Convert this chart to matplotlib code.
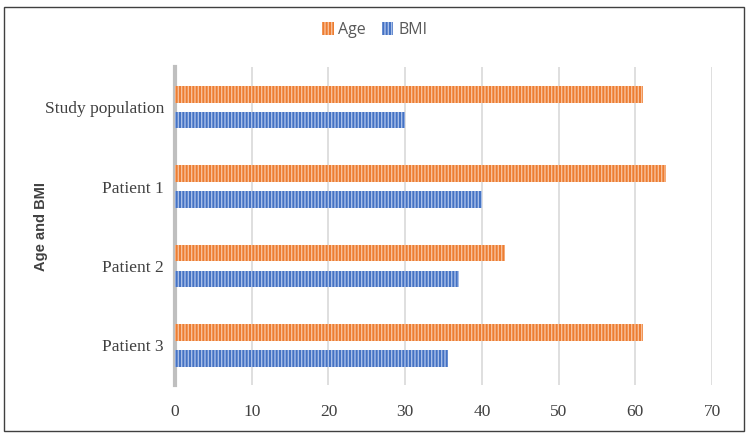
import numpy as np
import matplotlib.pyplot as plt
from matplotlib.patches import Rectangle

# data
categories = ["Study population", "Patient 1", "Patient 2", "Patient 3"]
age = [61, 64, 43, 61]
bmi = [30, 40, 37, 35.6]

plt.rcParams["hatch.linewidth"] = 1.0

fig = plt.figure(figsize=(7.48, 4.34), dpi=100)
ax = fig.add_axes([0.234, 0.113, 0.718, 0.7315])

y = np.arange(len(categories))[::-1]
h = 0.21
off = 0.163

ax.barh(y + off, age, height=h, color="#ED7D31", edgecolor="#F8C09B",
        hatch="|||||", linewidth=0, label="Age", zorder=3)
ax.barh(y - off, bmi, height=h, color="#4472C4", edgecolor="#A9BFE8",
        hatch="|||||", linewidth=0, label="BMI", zorder=3)

ax.set_xlim(0, 70)
ax.set_ylim(-0.5, 3.5)
ax.set_xticks(range(0, 71, 10))
ax.set_yticks(y)
ax.set_yticklabels(categories)
ax.grid(axis="x", color="#D9D9D9", linewidth=1.2, zorder=0)
ax.tick_params(axis="both", length=0, labelcolor="#404040", labelsize=12.5)
ax.tick_params(axis="y", pad=8)
ax.tick_params(axis="x", pad=14)
for lab in ax.get_xticklabels() + ax.get_yticklabels():
    lab.set_fontfamily("Liberation Serif")

for s in ["top", "right", "bottom"]:
    ax.spines[s].set_visible(False)
ax.spines["left"].set_color("#BFBFBF")
ax.spines["left"].set_linewidth(3)

ax.set_ylabel("Age and BMI", fontweight="bold", fontsize=10.5, color="#404040",
              fontfamily="Liberation Sans")
ax.yaxis.set_label_coords(-0.236, 0.5)

ax.legend(loc="center", bbox_to_anchor=(0.372, 1.118), ncol=2, frameon=False,
          prop={"family": "Open Sans", "size": 11.5}, labelcolor="#595959",
          handlelength=0.7, handleheight=0.9, handletextpad=0.3, columnspacing=1.0)

# outer border
fig.patches.append(Rectangle((0.006, 0.008), 0.988, 0.975, transform=fig.transFigure,
                             fill=False, edgecolor="#404040", linewidth=1))

fig.savefig("out.png", dpi=100)
